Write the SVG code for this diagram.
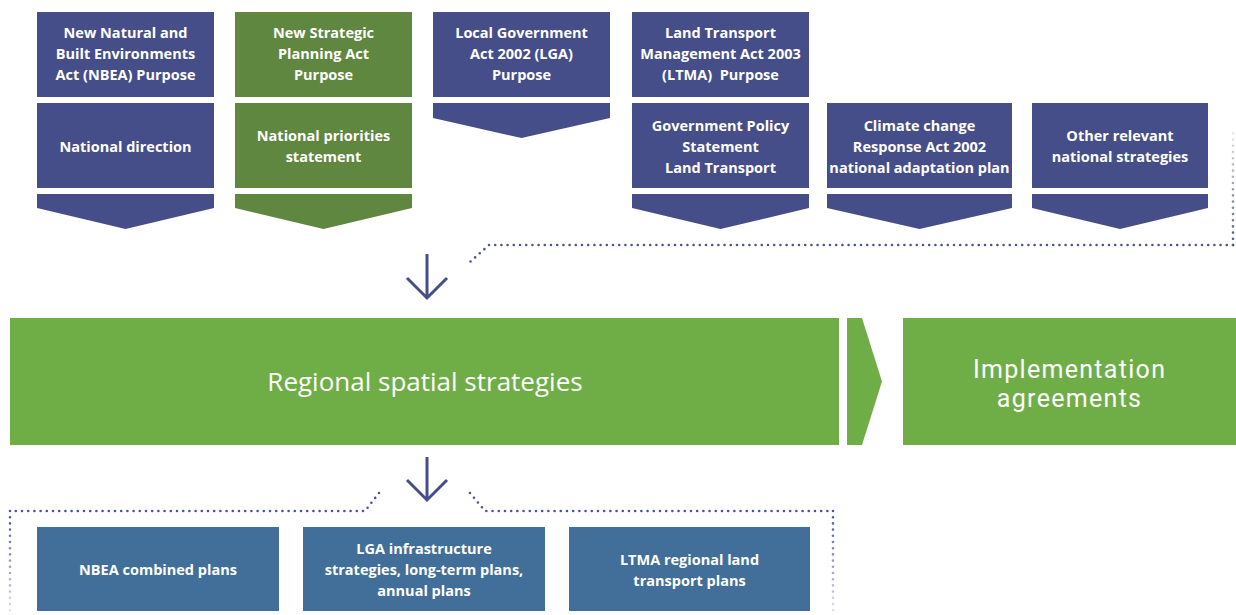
<svg xmlns="http://www.w3.org/2000/svg" width="1236" height="615" viewBox="0 0 1236 615">
  <defs>
    <style>
      .blue { fill: #464e8a; }
      .olive { fill: #5f873f; }
      .green { fill: #6fae47; }
      .steel { fill: #416f9a; }
      .lbl { font-family: "Open Sans", "Liberation Sans", sans-serif; font-weight: 700; font-size: 14.5px; fill: #ffffff; text-anchor: middle; white-space: pre; }
      .big { font-family: "Open Sans", "Liberation Sans", sans-serif; font-weight: 400; font-size: 26px; fill: #ffffff; text-anchor: middle; }
      .impl { font-family: Roboto, "Liberation Sans", sans-serif; font-weight: 400; font-size: 25px; letter-spacing: 1.3px; fill: #ffffff; text-anchor: middle; }
      .dots { fill: none; stroke: #4a5490; stroke-width: 2.6; stroke-linecap: round; stroke-dasharray: 0 6.2; }
      .arrow { fill: none; stroke: #464e8a; stroke-width: 3; }
    </style>
    <linearGradient id="fadeTop" gradientUnits="userSpaceOnUse" x1="0" y1="245" x2="0" y2="128">
      <stop offset="0" stop-color="#4a5490" stop-opacity="1"/>
      <stop offset="1" stop-color="#4a5490" stop-opacity="0.1"/>
    </linearGradient>
    <linearGradient id="fadeBottom" gradientUnits="userSpaceOnUse" x1="0" y1="511" x2="0" y2="615">
      <stop offset="0" stop-color="#4a5490" stop-opacity="1"/>
      <stop offset="1" stop-color="#4a5490" stop-opacity="0.15"/>
    </linearGradient>
  </defs>
  <rect width="1236" height="615" fill="#ffffff"/>

  <!-- NBEA column -->
  <g id="nbea">
    <rect class="blue" x="37" y="12" width="177" height="85"/>
    <text class="lbl" x="125.5" y="38">New Natural and</text>
    <text class="lbl" x="125.5" y="59">Built Environments</text>
    <text class="lbl" x="125.5" y="80">Act (NBEA) Purpose</text>
    <rect class="blue" x="37" y="103" width="177" height="85"/>
    <text class="lbl" x="125.5" y="152">National direction</text>
    <polygon class="blue" points="37,194 214,194 214,208 125.5,229 37,208"/>
  </g>

  <!-- Strategic Planning Act column -->
  <g id="spa">
    <rect class="olive" x="235" y="12" width="177" height="85"/>
    <text class="lbl" x="323.5" y="38">New Strategic</text>
    <text class="lbl" x="323.5" y="59">Planning Act</text>
    <text class="lbl" x="323.5" y="80">Purpose</text>
    <rect class="olive" x="235" y="103" width="177" height="85"/>
    <text class="lbl" x="323.5" y="141">National priorities</text>
    <text class="lbl" x="323.5" y="162">statement</text>
    <polygon class="olive" points="235,194 412,194 412,208 323.5,229 235,208"/>
  </g>

  <!-- LGA column -->
  <g id="lga">
    <rect class="blue" x="433" y="12" width="177" height="85"/>
    <text class="lbl" x="521.5" y="38">Local Government</text>
    <text class="lbl" x="521.5" y="59">Act 2002 (LGA)</text>
    <text class="lbl" x="521.5" y="80">Purpose</text>
    <polygon class="blue" points="433,103 610,103 610,118 521.5,138 433,118"/>
  </g>

  <!-- LTMA column -->
  <g id="ltma">
    <rect class="blue" x="632" y="12" width="177" height="85"/>
    <text class="lbl" x="720.5" y="38">Land Transport</text>
    <text class="lbl" x="720.5" y="59">Management Act 2003</text>
    <text class="lbl" x="720.5" y="80" xml:space="preserve">(LTMA)  Purpose</text>
    <rect class="blue" x="632" y="103" width="177" height="85"/>
    <text class="lbl" x="720.5" y="131">Government Policy</text>
    <text class="lbl" x="720.5" y="152">Statement</text>
    <text class="lbl" x="720.5" y="173">Land Transport</text>
    <polygon class="blue" points="632,194 809,194 809,208 720.5,229 632,208"/>
  </g>

  <!-- Climate change column -->
  <g id="climate">
    <rect class="blue" x="827" y="103" width="185" height="85"/>
    <text class="lbl" x="919.5" y="131">Climate change</text>
    <text class="lbl" x="919.5" y="152">Response Act 2002</text>
    <text class="lbl" x="919.5" y="173">national adaptation plan</text>
    <polygon class="blue" points="827,194 1012,194 1012,208 919.5,229 827,208"/>
  </g>

  <!-- Other strategies column -->
  <g id="other">
    <rect class="blue" x="1032" y="103" width="176" height="85"/>
    <text class="lbl" x="1120" y="141">Other relevant</text>
    <text class="lbl" x="1120" y="162">national strategies</text>
    <polygon class="blue" points="1032,194 1208,194 1208,208 1120,229 1032,208"/>
  </g>

  <!-- Regional spatial strategies band -->
  <g id="rss">
    <rect class="green" x="10" y="318" width="829" height="127"/>
    <text class="big" x="425" y="391">Regional spatial strategies</text>
    <polygon class="green" points="847,318 862,318 882,381.5 862,445 847,445"/>
  </g>

  <!-- Implementation agreements -->
  <g id="implementation">
    <rect class="green" x="903" y="318" width="333" height="127"/>
    <text class="impl" x="1069.6" y="377.5">Implementation</text>
    <text class="impl" x="1069.6" y="407">agreements</text>
  </g>

  <!-- Lower plans -->
  <g id="nbea-plans">
    <rect class="steel" x="37" y="527" width="242" height="84"/>
    <text class="lbl" x="158" y="575">NBEA combined plans</text>
  </g>
  <g id="lga-plans">
    <rect class="steel" x="303" y="527" width="242" height="84"/>
    <text class="lbl" x="424" y="554">LGA infrastructure</text>
    <text class="lbl" x="424" y="575">strategies, long-term plans,</text>
    <text class="lbl" x="424" y="596">annual plans</text>
  </g>
  <g id="ltma-plans">
    <rect class="steel" x="569" y="527" width="241" height="84"/>
    <text class="lbl" x="689.5" y="565">LTMA regional land</text>
    <text class="lbl" x="689.5" y="586">transport plans</text>
  </g>

  <!-- Connectors -->
  <g id="connectors">
    <!-- arrow into regional strategies -->
    <path class="arrow" d="M427,254 V297 M407,278 L427,298 L447,278"/>
    <!-- arrow out of regional strategies -->
    <path class="arrow" d="M427,457 V500 M407,480 L427,500 L447,480"/>

    <!-- dotted feed from other national strategies -->
    <path class="dots" d="M1233,245 H489 L470,262"/>
    <path class="dots" d="M1233,245 V128" style="stroke:url(#fadeTop)"/>

    <!-- dotted grouping over the plans -->
    <path class="dots" d="M379,493 L365,511 H10"/>
    <path class="dots" d="M10,511 V614" style="stroke:url(#fadeBottom)"/>
    <path class="dots" d="M470,493 L485,511 H833"/>
    <path class="dots" d="M833,511 V614" style="stroke:url(#fadeBottom)"/>
  </g>
</svg>
